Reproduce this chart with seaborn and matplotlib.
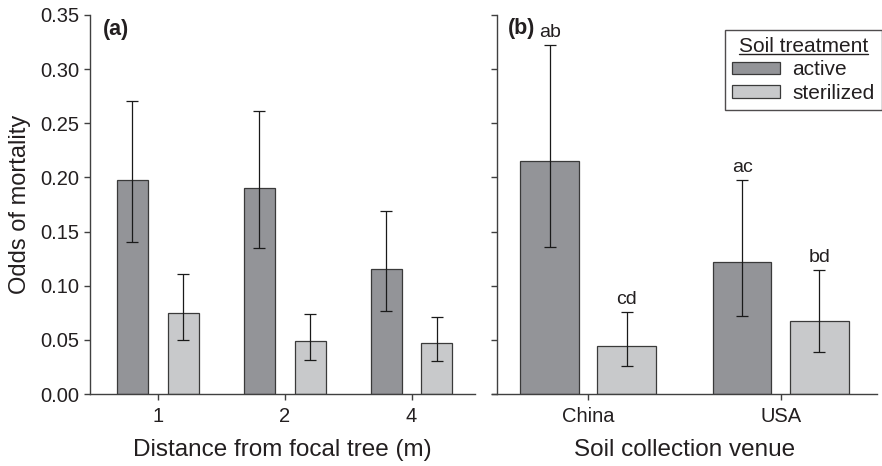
import matplotlib
matplotlib.use("Agg")
import matplotlib.pyplot as plt
from matplotlib.lines import Line2D
from matplotlib.patches import Patch
import seaborn as sns
import pandas as pd
import numpy as np

# ---- data ----
distances = ["1", "2", "4"]
venues = ["China", "USA"]
treatments = ["active", "sterilized"]

dist_active = [0.198, 0.190, 0.115]
dist_active_lo = [0.140, 0.135, 0.077]
dist_active_hi = [0.271, 0.261, 0.169]
dist_steril = [0.0745, 0.0486, 0.0471]
dist_steril_lo = [0.0496, 0.0317, 0.0308]
dist_steril_hi = [0.111, 0.0742, 0.0711]

venue_active = [0.215, 0.1216]
venue_active_lo = [0.1357, 0.0723]
venue_active_hi = [0.3226, 0.1976]
venue_steril = [0.0443, 0.0674]
venue_steril_lo = [0.0256, 0.0388]
venue_steril_hi = [0.076, 0.1148]
venue_letters_active = ["ab", "ac"]
venue_letters_steril = ["cd", "bd"]

yticks = [0.00, 0.05, 0.10, 0.15, 0.20, 0.25, 0.30, 0.35]

# ---- style ----
sns.set_style("ticks")
plt.rcParams["font.family"] = ["Liberation Sans", "DejaVu Sans"]
TXT = "#231f20"
AX = "#404040"
palette = {"active": "#939498", "sterilized": "#c8c9cb"}

W, H = 882, 466
fig = plt.figure(figsize=(W / 100, H / 100), dpi=100)
ax1 = fig.add_axes([90 / W, 1 - 394 / H, 385 / W, 379 / H])
ax2 = fig.add_axes([492 / W, 1 - 394 / H, 385 / W, 379 / H])


def make_df(cats, act, ste):
    return pd.DataFrame({
        "cat": list(cats) * 2,
        "treatment": ["active"] * len(cats) + ["sterilized"] * len(cats),
        "value": list(act) + list(ste),
    })


def draw(ax, cats, act, alo, ahi, ste, slo, shi, gap):
    df = make_df(cats, act, ste)
    sns.barplot(data=df, x="cat", y="value", hue="treatment", order=cats,
                hue_order=treatments, palette=palette, width=0.8, gap=gap,
                errorbar=None, edgecolor="#3a3a3a", linewidth=0.9,
                saturation=1, ax=ax, legend=False)
    tops = []
    for cont, vals, lo, hi in zip(ax.containers, [act, ste], [alo, slo], [ahi, shi]):
        xs = [p.get_x() + p.get_width() / 2 for p in cont.patches]
        v = np.array(vals)
        ax.errorbar(xs, v, yerr=[v - np.array(lo), np.array(hi) - v],
                    fmt="none", ecolor="#1a1a1a", elinewidth=0.9,
                    capsize=4, capthick=0.9, zorder=5)
        tops.append(xs)
    return tops


draw(ax1, distances, dist_active, dist_active_lo, dist_active_hi,
     dist_steril, dist_steril_lo, dist_steril_hi, gap=0.39)
pos = draw(ax2, venues, venue_active, venue_active_lo, venue_active_hi,
           venue_steril, venue_steril_lo, venue_steril_hi, gap=0.24)

for xs, his, labs in zip(pos, [venue_active_hi, venue_steril_hi],
                         [venue_letters_active, venue_letters_steril]):
    for x, h, lab in zip(xs, his, labs):
        ax2.annotate(lab, (x, h), xytext=(0, 3), textcoords="offset points",
                     ha="center", va="bottom", fontsize=14, color=TXT)

ax1.set_xlim(-0.535, 2.5)
ax2.set_xlim(-0.526 + 5 / 190, 1.5)
for ax in (ax1, ax2):
    ax.set_ylim(0, 0.35)
    ax.set_yticks(yticks)
    sns.despine(ax=ax)
    for s in ("left", "bottom"):
        ax.spines[s].set_color(AX)
        ax.spines[s].set_linewidth(1.0)
    ax.tick_params(axis="both", colors=AX, length=4, width=1.0,
                   labelcolor=TXT, labelsize=14.5)
    ax.tick_params(axis="x", pad=5)
    ax.set_xlabel("")
    ax.set_ylabel("")

ax2.spines["left"].set_position(("axes", 5 / 385))
ax1.set_yticklabels([f"{t:.2f}" for t in yticks])
ax2.set_yticklabels([])

ax1.set_ylabel("Odds of mortality", fontsize=17, color=TXT, labelpad=7)
ax1.set_xlabel("Distance from focal tree (m)", fontsize=17.5, color=TXT, labelpad=10)
ax2.set_xlabel("Soil collection venue", fontsize=17.5, color=TXT, labelpad=10)

ax1.text(0.033, 0.99, "(a)", transform=ax1.transAxes, fontsize=15.5,
         fontweight="bold", color=TXT, ha="left", va="top")
ax2.text(0.04, 0.993, "(b)", transform=ax2.transAxes, fontsize=15.5,
         fontweight="bold", color=TXT, ha="left", va="top")

handles = [Patch(facecolor=palette[t], edgecolor="#3a3a3a", linewidth=0.9)
           for t in treatments]
leg = ax2.legend(handles, treatments, title="Soil treatment",
                 loc="upper right", bbox_to_anchor=(1.0, 1 - 30 / H),
                 bbox_transform=fig.transFigure, borderaxespad=0,
                 fontsize=15, title_fontsize=15, frameon=True, fancybox=False,
                 edgecolor="#231f20", handlelength=2.3, handleheight=0.55,
                 handletextpad=0.6, labelspacing=0.2, borderpad=0.35)
leg.get_frame().set_linewidth(1.0)
for t in leg.get_texts():
    t.set_color(TXT)
leg.get_title().set_color(TXT)

# underline the legend title
fig.canvas.draw()
bb = leg.get_title().get_window_extent(fig.canvas.get_renderer())
inv = fig.transFigure.inverted()
(x0, y0), (x1, _) = inv.transform([(bb.x0, bb.y0 + 2), (bb.x1, bb.y0 + 2)])
fig.add_artist(Line2D([x0, x1], [y0, y0], transform=fig.transFigure,
                      color=TXT, linewidth=1.0))

fig.savefig("out.png", dpi=100)
